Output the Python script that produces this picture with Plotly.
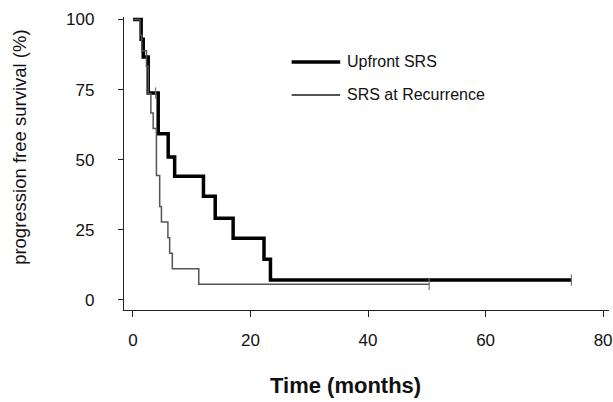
import plotly.graph_objects as go

# Upfront SRS (Kaplan-Meier step curve)
upfront_time = [0, 1.4, 1.75, 2.6, 4.3, 6.0, 7.1, 12.0, 14.0, 17.05, 22.3, 23.4, 74.6]
upfront_surv = [100, 93, 86.6, 73.8, 59.3, 51, 44.1, 37, 29.1, 22, 14.5, 7.1, 7.1]

# SRS at Recurrence
recur_time = [0, 1.2, 1.5, 2.3, 2.6, 3.05, 3.45, 4.0, 4.55, 4.85, 5.95, 6.25, 6.7, 11.2, 50.4]
recur_surv = [100, 94.4, 88.9, 83.3, 73.5, 66.7, 61.1, 44.4, 33.3, 27.8, 22.2, 16.7, 11.1, 5.6, 5.6]

# censor marks
upfront_cens_t = [3.85, 74.6]
upfront_cens_s = [73.8, 7.1]
recur_cens_t = [50.4]
recur_cens_s = [5.6]

x_ticks = [0, 20, 40, 60, 80]
y_ticks = [0, 25, 50, 75, 100]

FONT = "Liberation Sans, Arial, sans-serif"
THIN = "#555555"

W, H = 613, 402
L, T = 124, 17
PW, PH = 489, 293
B = H - T - PH


def px(xp):
    return (xp - L) / PW


def py(yp):
    return (T + PH - yp) / PH


fig = go.Figure()
fig.add_trace(go.Scatter(x=upfront_time, y=upfront_surv, mode="lines",
                         line=dict(shape="hv", color="black", width=3.5),
                         name="Upfront SRS", showlegend=False))
fig.add_trace(go.Scatter(x=recur_time, y=recur_surv, mode="lines",
                         line=dict(shape="hv", color=THIN, width=1.5),
                         name="SRS at Recurrence", showlegend=False))
fig.add_trace(go.Scatter(x=upfront_cens_t + recur_cens_t, y=upfront_cens_s + recur_cens_s,
                         mode="markers", showlegend=False,
                         marker=dict(symbol="line-ns-open", size=8, color="#777777",
                                     line=dict(color="#777777", width=1.2))))

# manual legend
leg = [("Upfront SRS", "black", 3.5, 62), ("SRS at Recurrence", THIN, 1.8, 95)]
shapes = []
annotations = []
for label, col, w, ypx in leg:
    shapes.append(dict(type="line", xref="paper", yref="paper",
                       x0=px(293), x1=px(342), y0=py(ypx), y1=py(ypx),
                       line=dict(color=col, width=w)))
    annotations.append(dict(text=label, xref="paper", yref="paper",
                            x=px(347), y=py(ypx),
                            xanchor="left", yanchor="middle", showarrow=False,
                            font=dict(family=FONT, size=16, color="#111111")))

annotations.append(dict(text="progression free survival (%)", xref="paper", yref="paper",
                        x=px(18), y=py(147), textangle=-90,
                        xanchor="center", yanchor="middle", showarrow=False,
                        font=dict(family=FONT, size=18.5, color="#111111")))
annotations.append(dict(text="<b>Time (months)</b>", xref="paper", yref="paper",
                        x=px(347), y=py(385),
                        xanchor="center", yanchor="middle", showarrow=False,
                        font=dict(family=FONT, size=22, color="#111111")))

fig.update_layout(
    width=W, height=H,
    margin=dict(l=L, r=0, t=T, b=B),
    paper_bgcolor="white", plot_bgcolor="white",
    font=dict(family=FONT, size=17, color="#111111"),
    shapes=shapes, annotations=annotations,
    showlegend=False,
)
fig.update_xaxes(range=[-1.52, 81.0], tickvals=x_ticks, ticks="outside", ticklen=6,
                 tickcolor="#222222", showline=True, linecolor="#222222", linewidth=1.3,
                 showgrid=False, zeroline=False, ticklabelstandoff=8,
                 ticklabeloverflow="allow",
                 tickfont=dict(family=FONT, size=17, color="#111111"))
fig.update_yaxes(range=[-3.57, 100.9], tickvals=y_ticks, ticks="outside", ticklen=5,
                 tickcolor="#222222", showline=True, linecolor="#222222", linewidth=1.3,
                 showgrid=False, zeroline=False, ticklabelstandoff=20,
                 tickfont=dict(family=FONT, size=17, color="#111111"))

fig.write_html("out.html",
               config={"displayModeBar": False},
               post_script="document.body.style.margin='0';document.body.style.overflow='hidden';")
